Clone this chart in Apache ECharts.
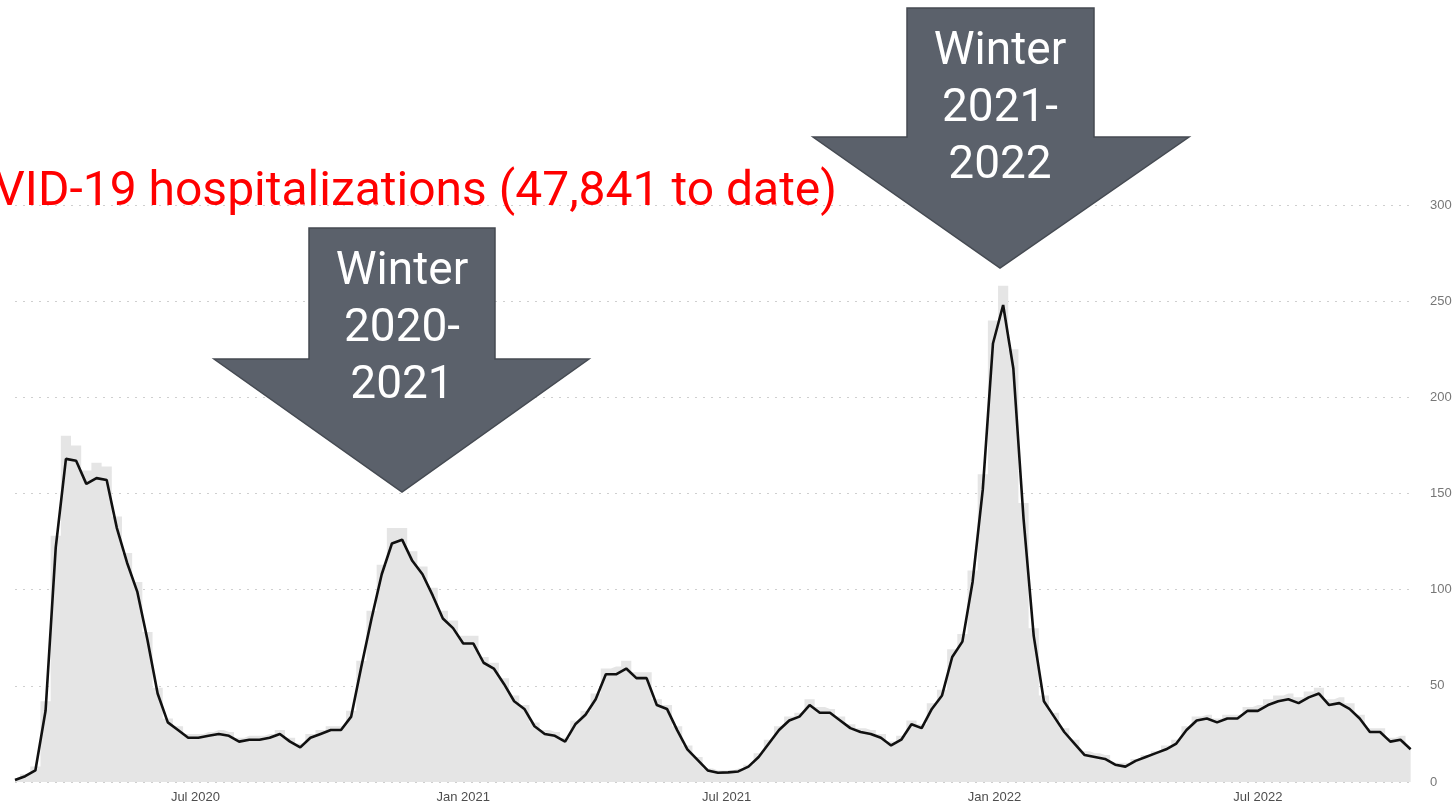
<!DOCTYPE html>
<html>
<head>
<meta charset="utf-8">
<title>COVID-19 hospitalizations</title>
<script src="https://cdn.jsdelivr.net/npm/echarts@6/dist/echarts.min.js"></script>
<style>
  html, body { margin: 0; padding: 0; background: #fff; }
  #chart { width: 1455px; height: 804px; }
</style>
</head>
<body>
<div id="chart"></div>
<script>
// readings, one value per week from startDate
const startDate = '2020-02-28';
const endDate = '2022-10-17';
const stepDays = 7;

// daily hospitalizations (grey), weekly read-off of the bar tops
const dailyCounts = [
  2, 4, 8, 42, 128, 180, 175, 162, 166, 164,
  138, 119, 104, 78, 49, 33, 29, 25, 25, 26,
  27, 26, 23, 24, 24, 25, 27, 23, 20, 25,
  27, 29, 29, 37, 63, 89, 113, 132, 132, 120,
  112, 101, 89, 84, 76, 76, 65, 62, 54, 45,
  40, 31, 27, 26, 23, 32, 37, 46, 59, 60,
  63, 57, 57, 43, 40, 29, 19, 13, 7, 6,
  6, 7, 9, 15, 22, 29, 34, 36, 43, 39,
  38, 34, 30, 28, 27, 25, 21, 24, 32, 30,
  41, 48, 69, 77, 110, 160, 240, 258, 225, 145,
  80, 45, 36, 28, 22, 16, 15, 14, 10, 10,
  12, 14, 16, 19, 22, 29, 34, 35, 33, 35,
  35, 39, 40, 43, 45, 46, 44, 47, 49, 43,
  44, 41, 35, 28, 28, 23, 24, 18
];

// 7-day average (black line)
const sevenDayAvg = [
  1, 3, 6, 37, 122, 168, 167, 155, 158, 157,
  132, 114, 99, 74, 46, 31, 27, 23, 23, 24,
  25, 24, 21, 22, 22, 23, 25, 21, 18, 23,
  25, 27, 27, 34, 60, 85, 108, 124, 126, 115,
  108, 97, 85, 80, 72, 72, 62, 59, 51, 42,
  38, 29, 25, 24, 21, 30, 35, 43, 56, 56,
  59, 54, 54, 40, 38, 27, 17, 11.5, 6, 4.8,
  5, 5.5, 8, 13, 20, 27, 32, 34, 40, 36,
  36, 32, 28, 26, 25, 23, 19, 22, 30, 28,
  38, 45, 65, 73, 104, 152, 228, 248, 215, 137,
  76, 42, 34, 26, 20, 14, 13, 12, 9, 8,
  11, 13, 15, 17, 20, 27, 32, 33, 31, 33,
  33, 37, 37, 40, 42, 43, 41, 44, 46, 40,
  41, 38, 33, 26, 26, 21, 22, 17
];

const tickDates = ['2020-07-01', '2021-01-01', '2021-07-01', '2022-01-01', '2022-07-01'];
const tickLabels = ['Jul 2020', 'Jan 2021', 'Jul 2021', 'Jan 2022', 'Jul 2022'];
const yTicks = [0, 50, 100, 150, 200, 250, 300];

const titleText = 'COVID-19 hospitalizations (47,841 to date)';
const winterLabels = ['Winter\n2020-\n2021', 'Winter\n2021-\n2022'];

const toTime = (s) => +new Date(s + 'T00:00:00');
const DAY = 86400000;
const t0 = toTime(startDate);
const dates = sevenDayAvg.map((_, i) => t0 + i * stepDays * DAY);

// label lookup by year-month
const tickKeys = tickDates.map((s) => s.slice(0, 7));
const monthKey = (v) => {
  const d = new Date(v);
  return d.getFullYear() + '-' + String(d.getMonth() + 1).padStart(2, '0');
};

const chart = echarts.init(document.getElementById('chart'));

const arrowStyle = { fill: '#5b616b', stroke: '#454a52', lineWidth: 1.5 };
const arrowText = {
  fill: '#fff',
  font: '46px Roboto',
  lineHeight: 57,
  textAlign: 'center',
  textVerticalAlign: 'middle',
};

chart.setOption({
  animation: false,
  backgroundColor: '#fff',
  grid: { left: 15, right: 40, top: 205, bottom: 22 },
  xAxis: {
    type: 'time',
    min: t0,
    max: toTime(endDate),
    minInterval: 180 * DAY,
    maxInterval: 184 * DAY,
    axisLine: { show: false },
    axisTick: { show: false },
    splitLine: { show: false },
    axisLabel: {
      formatter: (v) => {
        const k = tickKeys.indexOf(monthKey(v));
        return k < 0 ? '' : tickLabels[k];
      },
      color: '#4d4d4d',
      fontFamily: 'Liberation Sans',
      fontSize: 13,
      margin: 9,
      hideOverlap: false,
    },
  },
  yAxis: {
    type: 'value',
    position: 'right',
    min: yTicks[0],
    max: yTicks[yTicks.length - 1],
    interval: 50,
    axisLine: { show: false },
    axisTick: { show: false },
    axisLabel: {
      color: '#777',
      fontFamily: 'Liberation Sans',
      fontSize: 13,
      margin: 15,
    },
    splitLine: {
      lineStyle: { color: '#cfcfcf', type: [2, 6], width: 1 },
    },
  },
  series: [
    {
      // daily counts drawn as touching weekly columns (stepped area)
      name: 'Daily',
      type: 'line',
      step: 'middle',
      symbol: 'none',
      lineStyle: { width: 0 },
      areaStyle: { color: '#e5e5e5', opacity: 1 },
      data: dates.map((d, i) => [d, dailyCounts[i]]),
      z: 1,
    },
    {
      name: '7-day average',
      type: 'line',
      symbol: 'none',
      lineStyle: { color: '#111', width: 2.6 },
      data: dates.map((d, i) => [d, sevenDayAvg[i]]),
      z: 3,
    },
  ],
  graphic: [
    {
      type: 'text',
      z: 10,
      style: {
        text: titleText,
        x: 837,
        y: 193,
        fill: '#ff0000',
        font: '48px Roboto',
        textAlign: 'right',
        textVerticalAlign: 'middle',
      },
    },
    {
      type: 'polygon',
      z: 20,
      shape: { points: [[309, 228], [495, 228], [495, 359], [589, 359], [402, 492], [214, 359], [309, 359]] },
      style: arrowStyle,
    },
    {
      type: 'text',
      z: 21,
      style: Object.assign({ text: winterLabels[0], x: 402, y: 329 }, arrowText),
    },
    {
      type: 'polygon',
      z: 20,
      shape: { points: [[907, 8], [1094, 8], [1094, 137], [1189, 137], [1000, 268], [813, 137], [907, 137]] },
      style: arrowStyle,
    },
    {
      type: 'text',
      z: 21,
      style: Object.assign({ text: winterLabels[1], x: 1000, y: 109 }, arrowText),
    },
  ],
});

window.addEventListener('resize', () => chart.resize());
</script>
</body>
</html>
